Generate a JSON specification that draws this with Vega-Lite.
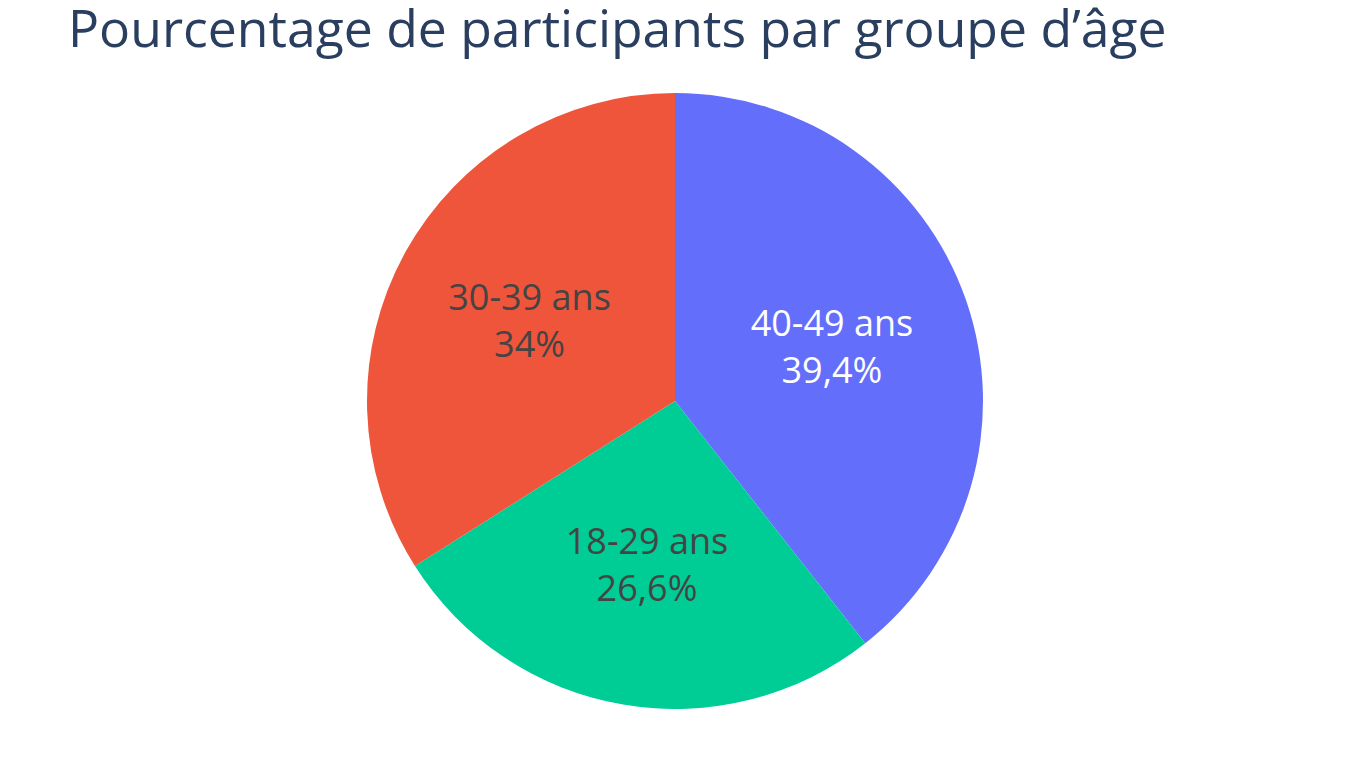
{
  "$schema": "https://vega.github.io/schema/vega-lite/v6.json",
  "width": 1350,
  "height": 678,
  "padding": {"top": 6, "left": 0, "right": 0, "bottom": 0},
  "autosize": {"type": "pad"},
  "background": "white",
  "config": {
    "view": {"stroke": null},
    "locale": {"number": {"decimal": ",", "thousands": " ", "grouping": [3], "currency": ["", " €"]}}
  },
  "title": {
    "text": "Pourcentage de participants par groupe d’âge",
    "anchor": "start",
    "fontSize": 51.7,
    "font": "Open Sans",
    "fontWeight": "normal",
    "color": "#2a3f5f",
    "dx": 68,
    "offset": 4
  },
  "data": {
    "values": [
      {"groupe": "40-49 ans", "part": 0.394, "ordre": 1},
      {"groupe": "18-29 ans", "part": 0.266, "ordre": 2},
      {"groupe": "30-39 ans", "part": 0.34, "ordre": 3}
    ]
  },
  "encoding": {
    "theta": {"field": "part", "type": "quantitative", "stack": true},
    "order": {"field": "ordre", "type": "quantitative"}
  },
  "layer": [
    {
      "mark": {"type": "arc", "outerRadius": 308},
      "encoding": {
        "color": {
          "field": "groupe",
          "type": "nominal",
          "scale": {"domain": ["40-49 ans", "18-29 ans", "30-39 ans"], "range": ["#636EFA", "#00CC96", "#EF553B"]},
          "legend": null
        }
      }
    },
    {
      "mark": {"type": "text", "radius": 166, "fontSize": 36, "font": "Open Sans", "dy": -11, "baseline": "alphabetic", "align": "center"},
      "encoding": {
        "text": {"field": "groupe", "type": "nominal"},
        "color": {"condition": {"test": "datum.groupe === '40-49 ans'", "value": "#ffffff"}, "value": "#444444"}
      }
    },
    {
      "mark": {"type": "text", "radius": 166, "fontSize": 36, "font": "Open Sans", "dy": 36, "baseline": "alphabetic", "align": "center"},
      "encoding": {
        "text": {"field": "part", "type": "quantitative", "format": ".3~%"},
        "color": {"condition": {"test": "datum.groupe === '40-49 ans'", "value": "#ffffff"}, "value": "#444444"}
      }
    }
  ]
}
